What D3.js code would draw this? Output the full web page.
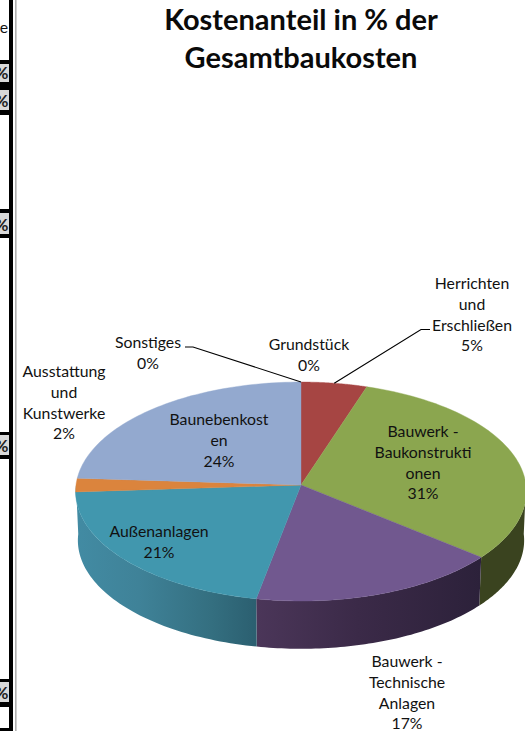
<!DOCTYPE html>
<html lang="de">
<head>
<meta charset="utf-8">
<title>Kostenanteil</title>
<script src="https://cdn.jsdelivr.net/npm/d3@7"></script>
<style>
  html, body { margin: 0; padding: 0; background: #fff; overflow: hidden; }
  svg { display: block; }
  text { font-family: Lato, Carlito, "Open Sans", sans-serif; fill: #111; }
  .title { font-size: 29px; font-weight: 700; fill: #0a0a0a; }
  .label { font-size: 15.8px; }
  .cut { font-size: 17px; font-weight: 700; fill: #222; }
</style>
</head>
<body>
<svg width="525" height="731"></svg>
<script>
(function (d3) {
  "use strict";

  const titleLines = ["Kostenanteil in % der", "Gesamtbaukosten"];

  // clockwise from 12 o'clock
  const categories = [
    "Herrichten und Erschließen",
    "Bauwerk - Baukonstruktionen",
    "Bauwerk - Technische Anlagen",
    "Außenanlagen",
    "Ausstattung und Kunstwerke",
    "Baunebenkosten",
    "Sonstiges",
    "Grundstück",
  ];
  const values = [5, 31, 17, 21, 2, 24, 0, 0];
  const colors = ["#a64543", "#8ba64f", "#71588f", "#4197ae", "#db843d", "#93a9cf", "#7f7f7f", "#4f81bd"];

  // how Excel wrapped the label text
  const labelLines = [
    ["Herrichten", "und", "Erschließen"],
    ["Bauwerk -", "Baukonstrukti", "onen"],
    ["Bauwerk -", "Technische", "Anlagen"],
    ["Außenanlagen"],
    ["Ausstattung", "und", "Kunstwerke"],
    ["Baunebenkost", "en"],
    ["Sonstiges"],
    ["Grundstück"],
  ];

  const svg = d3.select("svg");

  // left neighbour of the chart, cut off by the screenshot
  const side = svg.append("g");
  side.append("rect").attr("x", 9).attr("y", 0).attr("width", 4).attr("height", 731).attr("fill", "#000");
  side.append("rect").attr("x", 15).attr("y", 0).attr("width", 1.6).attr("height", 731).attr("fill", "#b0b0b0");
  side.append("text").attr("class", "label").attr("x", 8).attr("y", 33).attr("text-anchor", "end").text("e");

  const cutCells = [
    { y: 64, h: 18 },
    { y: 90, h: 20 },
    { y: 213, h: 21 },
    { y: 435, h: 20 },
    { y: 682, h: 20 },
  ];
  const cutBands = [
    { y: 60, h: 55 },
    { y: 209, h: 29 },
    { y: 432, h: 27 },
    { y: 679, h: 28 },
    { y: 728, h: 3 },
  ];
  side.selectAll(".band").data(cutBands).enter().append("rect")
    .attr("class", "band")
    .attr("x", 0).attr("y", (d) => d.y)
    .attr("width", 9).attr("height", (d) => d.h)
    .attr("fill", "#000");
  side.selectAll(".cell").data(cutCells).enter().append("rect")
    .attr("class", "cell")
    .attr("x", 0).attr("y", (d) => d.y)
    .attr("width", 9).attr("height", (d) => d.h)
    .attr("fill", "#d9d9d9");
  side.selectAll(".cut").data(cutCells).enter().append("text")
    .attr("class", "cut")
    .attr("x", 8.5).attr("y", (d) => d.y + d.h - 3)
    .attr("text-anchor", "end")
    .text("%");

  svg.selectAll(".title").data(titleLines).enter().append("text")
    .attr("class", "title")
    .attr("x", 301)
    .attr("y", (d, i) => 30 + i * 38)
    .attr("text-anchor", "middle")
    .text((d) => d);

  // 3D look: a disc tilted in perspective
  const cx = 301, cy = 485, radius = 225, tiltY = 109.1, persp = 0.0594, depth = 49, bottomScale = 0.99;
  const project = (a, r = 1, down = 0, s = 1) => {
    const u = Math.sin(a) * r * s;
    const v = -Math.cos(a) * r * s;
    const w = 1 - persp * v;
    return [cx + (radius * u) / w, cy + (tiltY * v) / w + down];
  };

  const arcPoints = (a0, a1, down = 0, s = 1) =>
    d3.range(0, 61).map((i) => project(a0 + ((a1 - a0) * i) / 60, 1, down, s));

  const pie = d3.pie().sort(null).value((d) => d).startAngle(0).endAngle(2 * Math.PI);
  const slices = pie(values);
  const line = d3.line();

  const defs = svg.append("defs");
  const addGradient = (id, x1, x2, stops) => {
    const grad = defs.append("linearGradient")
      .attr("id", id)
      .attr("gradientUnits", "userSpaceOnUse")
      .attr("x1", x1).attr("x2", x2).attr("y1", 0).attr("y2", 0);
    grad.selectAll("stop").data(stops).enter().append("stop")
      .attr("offset", (d) => d[0])
      .attr("stop-color", (d) => d[1]);
  };

  const [leftEdge] = project(Math.PI * 1.5);
  const [tealEnd] = project(slices[3].startAngle);
  const [purpleEnd] = project(slices[2].startAngle);
  addGradient("wall-3", leftEdge, tealEnd, [[0, "#428ba3"], [0.35, "#3f8298"], [0.75, "#346f80"], [1, "#2b5f70"]]);
  addGradient("wall-2", tealEnd, purpleEnd, [[0, "#4b3659"], [0.45, "#3b2a48"], [1, "#2c213a"]]);

  const wallFill = (i) => (i === 3 ? "url(#wall-3)" : i === 2 ? "url(#wall-2)" : "#3a431f");

  // outer wall, only the part that faces the viewer; teal runs on under the thin orange slice
  const walls = [1, 2, 3].map((i) => ({
    i,
    a0: Math.max(slices[i].startAngle, Math.PI / 2),
    a1: i === 3 ? Math.PI * 1.5 : slices[i].endAngle,
  }));

  svg.selectAll(".wall").data(walls).enter().append("path")
    .attr("class", "wall")
    .attr("fill", (d) => wallFill(d.i))
    .attr("d", (d) => line(arcPoints(d.a0, d.a1).concat(arcPoints(d.a1, d.a0, depth, bottomScale))) + "Z");

  svg.selectAll(".slice").data(slices.filter((d) => d.value > 0)).enter().append("path")
    .attr("class", "slice")
    .attr("fill", (d) => colors[d.index])
    .attr("stroke", (d) => colors[d.index])
    .attr("stroke-width", 0.4)
    .attr("d", (d) => line([[cx, cy]].concat(arcPoints(d.startAngle, d.endAngle))) + "Z");

  // leader lines for Herrichten and Sonstiges
  const leaders = [
    { i: 0, elbow: [[421, 329.5], [430, 329.5]] },
    { i: 6, elbow: [[193, 347], [185, 347]] },
  ];
  svg.selectAll(".leader").data(leaders).enter().append("path")
    .attr("class", "leader")
    .attr("fill", "none")
    .attr("stroke", "#000")
    .attr("stroke-width", 1.1)
    .attr("d", (d) => {
      const s = slices[d.i];
      return line([project((s.startAngle + s.endAngle) / 2)].concat(d.elbow));
    });

  const labelAnchors = [
    { x: 472, y: 289 },
    { x: 423, y: 437 },
    { x: 407, y: 667 },
    { x: 159, y: 537 },
    { x: 64, y: 377 },
    { x: 219, y: 425 },
    { x: 148, y: 348 },
    { x: 309, y: 350 },
  ];

  const labels = svg.selectAll(".label-g").data(categories).enter().append("text")
    .attr("class", "label")
    .attr("text-anchor", "middle")
    .attr("aria-label", (d) => d);

  labels.selectAll("tspan")
    .data((d, i) => labelLines[i].concat(`${values[i]}%`).map((t) => ({ t, i })))
    .enter().append("tspan")
    .attr("x", (d) => labelAnchors[d.i].x)
    .attr("y", (d, k) => labelAnchors[d.i].y + k * 20.8)
    .text((d) => d.t);
})(d3);
</script>
</body>
</html>
